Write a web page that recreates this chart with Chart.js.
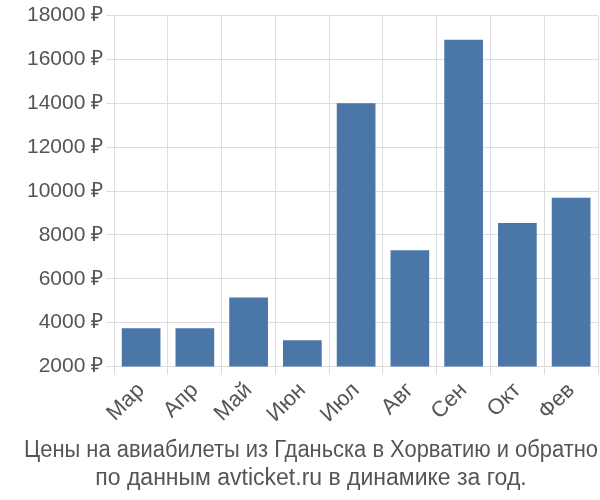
<!DOCTYPE html>
<html>
<head>
<meta charset="utf-8">
<script src="https://cdn.jsdelivr.net/npm/chart.js@4"></script>
<style>
  html, body { margin: 0; padding: 0; background: #fff; }
  #wrap { width: 600px; height: 500px; }
</style>
</head>
<body>
<div id="wrap"><canvas id="grafico"></canvas></div>
<script>
const meses = ['Мар', 'Апр', 'Май', 'Июн', 'Июл', 'Авг', 'Сен', 'Окт', 'Фев']
const precos = [3750, 3750, 5150, 3200, 14000, 7300, 16900, 8550, 9700]
const titulo = ['Цены на авиабилеты из Гданьска в Хорватию и обратно', 'по данным avticket.ru в динамике за год.']

const ctx = document.getElementById('grafico').getContext('2d')
new Chart(ctx, {
  type: 'bar',
  data: {
    labels: meses,
    datasets: [{
      data: precos,
      backgroundColor: '#4a76a8',
      categoryPercentage: 1,
      barPercentage: 0.72
    }]
  },
  options: {
    responsive: true,
    maintainAspectRatio: false,
    animation: false,
    layout: { padding: { top: 6, right: 2, left: 24, bottom: 0 } },
    scales: {
      y: {
        min: 2000,
        max: 18000,
        ticks: {
          stepSize: 2000,
          color: '#555',
          font: { family: 'Liberation Sans', size: 21 },
          callback: v => v + ' ₽'
        },
        grid: { color: '#ddd' },
        border: { display: false }
      },
      x: {
        ticks: {
          color: '#555',
          font: { family: 'Liberation Sans', size: 22 },
          maxRotation: 45,
          minRotation: 45
        },
        grid: { color: '#ddd' },
        border: { display: false }
      }
    },
    plugins: {
      legend: { display: false },
      tooltip: { enabled: false },
      title: {
        display: true,
        position: 'bottom',
        text: titulo,
        color: '#555',
        font: { family: 'Liberation Sans', size: 23, weight: 'normal', lineHeight: 1.2 },
        padding: { top: 6, bottom: 8 }
      }
    }
  }
})
</script>
</body>
</html>
